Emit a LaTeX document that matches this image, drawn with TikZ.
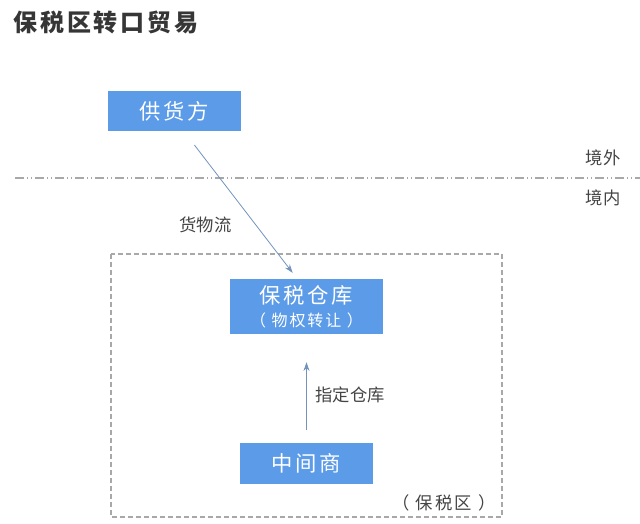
\documentclass[tikz,border=0pt]{standalone}
\usepackage{fontspec}
\setmainfont{Noto Sans CJK SC}
\newfontfamily\cjkwide{Noto Sans CJK SC}[LetterSpace=12]
\usepackage{tikz}
\usetikzlibrary{positioning,calc,arrows.meta}
\definecolor{boxblue}{HTML}{5B9BE8}
\definecolor{flowblue}{HTML}{7393BD}
\definecolor{txtgray}{HTML}{444444}
\definecolor{linegray}{HTML}{A8A8A8}
\tikzset{
    box/.style={
        rectangle,
        fill=boxblue,
        text=white,
        align=center,
        inner sep=0pt,
        font=\cjkwide\fontsize{16}{19}\selectfont
    },
    flow/.style={
        draw=flowblue,
        line width=0.6pt,
        -{Stealth[length=6.5pt,width=4.5pt]}
    },
    tag/.style={
        text=txtgray,
        inner sep=0pt,
        font=\fontsize{13}{15}\selectfont
    }
}

\begin{document}
\begin{tikzpicture}[x=0.75pt, y=-0.75pt]
    \useasboundingbox (0,0) rectangle (640,524);
    \node (title) [anchor=west, text=txtgray!80!black, inner sep=0pt,
        font=\cjkwide\bfseries\fontsize{18}{21}\selectfont] at (13,22) {保税区转口贸易};

    % border line
    \draw [linegray, line width=0.8pt, dash pattern=on 7pt off 2pt on 1pt off 2pt on 1pt off 2pt]
        (15,178) -- (640,178);
    \node (outside) [tag] at (603,158) {境外};
    \node (inside) [tag] at (603,198) {境内};

    % bonded zone
    \draw [linegray, line width=0.8pt, dash pattern=on 3.5pt off 2.5pt] (111,254) rectangle (502,517);
    \node (zone) [tag, font=\cjkwide\fontsize{13}{15}\selectfont] at (444,503) {（ 保税区 ）};

    \node (supplier) [box, minimum width=99.75pt, minimum height=30pt] at (174.5,111) {供货方};
    \node (warehouse) [box, minimum width=114.75pt, minimum height=41.25pt] at (306.5,306.5)
        {保税仓库\\[-2pt]{\fontsize{12}{14}\selectfont （ 物权转让 ）}};
    \node (middleman) [box, minimum width=99.75pt, minimum height=30.75pt] at (306.5,463.5) {中间商};

    \draw [flow, shorten <=13pt, shorten >=5.5pt] ([xshift=7pt]supplier.south) -- ([xshift=-7pt]warehouse.north)
        node [tag, pos=0.635, left=18pt] (goods) {货物流};
    \draw [flow, shorten <=9.75pt, shorten >=21pt] (middleman.north) -- (warehouse.south)
        node [tag, pos=0.44, right=6.4pt] (assign) {指定仓库};
\end{tikzpicture}
\end{document}
